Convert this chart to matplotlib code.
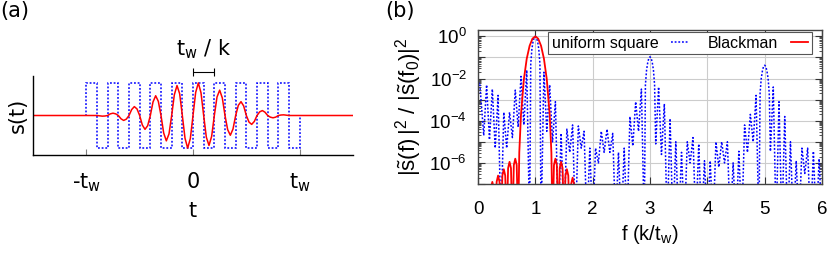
import numpy as np
import matplotlib.pyplot as plt
from matplotlib.ticker import FixedLocator, FuncFormatter, LogLocator, NullFormatter

plt.rcParams['mathtext.fontset'] = 'custom'
plt.rcParams['mathtext.rm'] = 'Liberation Sans'
plt.rcParams['mathtext.sf'] = 'DejaVu Sans'

#%% panel (a): time signals, t in units of t_w
sq_edges = [-1.0, -0.9, -0.8, -0.7, -0.6, -0.5, -0.4, -0.3, -0.2, -0.1, 0.0,
            0.1, 0.2, 0.3, 0.4, 0.5, 0.6, 0.7, 0.8, 0.9, 1.0]
sq_level = [1, -1, 1, -1, 1, -1, 1, -1, 1, -1,
            1, -1, 1, -1, 1, -1, 1, -1, 1, -1]

# Blackman pulse every 0.025 t_w from -t_w to t_w
bm_sig = [0.0, 0.0, 0.0, 0.0, 0.0, -0.01, -0.02, -0.015,
          0.0, 0.05, 0.07, 0.05, 0.0, -0.10, -0.15, -0.11,
          0.0, 0.18, 0.27, 0.20, 0.0, -0.29, -0.42, -0.31,
          0.0, 0.41, 0.60, 0.43, 0.0, -0.53, -0.77, -0.56,
          0.0, 0.63, 0.91, 0.66, 0.0, -0.69, -0.99, -0.70,
          0.0, 0.70, 0.99, 0.69, 0.0, -0.66, -0.91, -0.63,
          0.0, 0.56, 0.77, 0.53, 0.0, -0.43, -0.60, -0.41,
          0.0, 0.31, 0.42, 0.29, 0.0, -0.20, -0.27, -0.18,
          0.0, 0.11, 0.15, 0.10, 0.0, -0.05, -0.07, -0.05,
          0.0, 0.015, 0.02, 0.01, 0.0, 0.0, 0.0, 0.0, 0.0]
t_sig = np.linspace(-1, 1, len(bm_sig))

#%% panel (b): power spectra, log10 of |s(f)|^2/|s(f0)|^2
sq_f = [0.00, 0.03, 0.10, 0.15, 0.20, 0.25, 0.30, 0.35, 0.40, 0.45, 0.50, 0.55, 0.60, 0.65,
        0.70, 0.75, 0.80, 0.85, 0.90, 0.92, 0.94, 0.96, 0.98, 1.00, 1.02, 1.04, 1.06, 1.08,
        1.10, 1.15, 1.20, 1.25, 1.30, 1.35, 1.40, 1.45, 1.50, 1.55, 1.60, 1.65, 1.70, 1.75,
        1.80, 1.85, 1.90, 1.95, 2.00, 2.05, 2.10, 2.15, 2.20, 2.25, 2.30, 2.35, 2.40, 2.45,
        2.50, 2.55, 2.60, 2.65, 2.70, 2.75, 2.80, 2.85, 2.90, 2.92, 2.94, 2.96, 2.98, 3.00,
        3.02, 3.04, 3.06, 3.08, 3.10, 3.15, 3.20, 3.25, 3.30, 3.35, 3.40, 3.45, 3.50, 3.55,
        3.60, 3.65, 3.70, 3.75, 3.80, 3.85, 3.90, 3.95, 4.00, 4.05, 4.10, 4.15, 4.20, 4.25,
        4.30, 4.35, 4.40, 4.45, 4.50, 4.55, 4.60, 4.65, 4.70, 4.75, 4.80, 4.85, 4.90, 4.92,
        4.94, 4.96, 4.98, 5.00, 5.02, 5.04, 5.06, 5.08, 5.10, 5.15, 5.20, 5.25, 5.30, 5.35,
        5.40, 5.45, 5.50, 5.55, 5.60, 5.65, 5.70, 5.75, 5.80, 5.85, 5.90, 5.95, 6.00]
sq_lg = [-2.25, -2.2, -4.7, -2.3, -4.9, -2.5, -5.3, -2.8, -9.0, -3.6, -5.3, -3.6, -4.8, -2.55,
         -4.3, -1.9, -4.2, -1.6, -9.0, -1.3, -0.6, -0.25, -0.06, 0.0, -0.06, -0.25, -0.6, -1.3,
         -9.0, -1.7, -4.5, -2.3, -5.0, -3.1, -9.0, -4.6, -9.0, -4.4, -5.5, -4.2, -9.0, -4.25,
         -5.3, -4.5, -9.0, -5.3, -9.0, -5.3, -6.0, -4.5, -5.5, -4.4, -5.5, -4.6, -9.0, -5.5,
         -9.0, -5.3, -9.0, -3.8, -5.2, -3.1, -4.5, -2.5, -9.0, -2.3, -1.6, -1.25, -1.03, -0.97,
         -1.03, -1.25, -1.6, -2.3, -5.1, -2.4, -5.6, -3.2, -9.0, -3.9, -9.0, -5.0, -9.0, -5.5,
         -9.0, -5.0, -6.0, -4.8, -9.0, -5.1, -9.0, -5.9, -9.0, -5.9, -9.0, -5.0, -6.2, -5.0,
         -6.0, -5.0, -9.0, -6.0, -9.0, -5.45, -9.0, -4.2, -5.5, -3.7, -5.0, -2.8, -9.0, -2.7,
         -2.0, -1.65, -1.43, -1.37, -1.43, -1.65, -2.0, -2.7, -5.45, -2.4, -9.0, -3.1, -9.0, -3.8,
         -9.0, -5.0, -9.0, -5.9, -9.0, -5.3, -6.5, -5.3, -9.0, -5.45, -9.0, -5.8, -9.0]

bm_f = [0.10, 0.125, 0.15, 0.175, 0.20, 0.225, 0.25, 0.275, 0.30, 0.325, 0.35, 0.375,
        0.40, 0.425, 0.45, 0.475, 0.50, 0.525, 0.55, 0.575, 0.60, 0.625, 0.65, 0.675,
        0.70, 0.72, 0.75, 0.80, 0.85, 0.90, 0.95, 1.00, 1.05, 1.10, 1.15, 1.20, 1.25, 1.28,
        1.30, 1.325, 1.35, 1.375, 1.40, 1.425, 1.45, 1.475, 1.50, 1.525, 1.55, 1.575,
        1.60, 1.625, 1.65, 1.675, 1.70, 1.725, 1.75, 1.775, 1.80]
bm_lg = [-9.0, -7.5, -7.2, -7.5, -9.0, -7.2, -6.9, -7.2, -9.0, -6.9, -6.6, -6.9,
         -9.0, -6.6, -6.3, -6.6, -9.0, -6.25, -5.95, -6.25, -9.0, -6.1, -5.8, -6.1,
         -9.0, -5.5, -3.7, -2.04, -1.06, -0.45, -0.11, 0.0, -0.11, -0.45, -1.06, -2.04, -3.7, -5.5,
         -9.0, -6.1, -5.8, -6.1, -9.0, -6.25, -5.95, -6.25, -9.0, -6.6, -6.3, -6.6,
         -9.0, -7.0, -6.7, -7.0, -9.0, -7.35, -7.05, -7.35, -9.0]

#%% figure
fig = plt.figure(figsize=(8.3, 2.54), dpi=100)

# ---- (a)
ax1 = fig.add_axes([33/830, 1-155/254, 320/830, 79/254])
ax1.stairs(sq_level, sq_edges, baseline=0, fill=False, color='blue',
           linestyle=(0, (1.2, 1.2)), lw=1.1)
ax1.plot(np.concatenate([[-1.5], t_sig, [1.5]]),
         np.concatenate([[0.0], bm_sig, [0.0]]), color='red', lw=1.1)
ax1.set_xlim(-1.5, 1.5)
ax1.set_ylim(-1.2, 1.2)
for s in ['top', 'right']:
    ax1.spines[s].set_visible(False)
ax1.spines['left'].set_linewidth(1.0)
ax1.spines['bottom'].set_linewidth(1.0)
ax1.set_yticks([])
ax1.set_xticks([-1, 0, 1])
ax1.set_xticklabels([r'-$\mathsf{t_w}$', '0', r'$\mathsf{t_w}$'],
                    fontsize=15, family='DejaVu Sans')
ax1.tick_params(axis='x', direction='in', length=4, color='gray', pad=12)
ax1.set_xlabel('t', fontsize=15, family='DejaVu Sans', labelpad=5)
ax1.set_ylabel('s(t)', fontsize=15, family='DejaVu Sans', labelpad=4)
# period marker
ax1.errorbar([0.1], [1.32], xerr=[0.1], color='black', lw=0.8, capsize=3,
             capthick=0.8, clip_on=False)
ax1.text(0.1, 2.0, r'$\mathsf{t_w}$ / k', fontsize=15, family='DejaVu Sans',
         ha='center', va='center')
fig.text(0.0, 0.995, '(a)', fontsize=15, family='DejaVu Sans', va='top', ha='left')

# ---- (b)
ax2 = fig.add_axes([478/830, 1-184/254, 344/830, 154/254])
ax2.plot(sq_f, 10.0**np.array(sq_lg), color='blue', linestyle=(0, (1.2, 1.2)),
         lw=1.1, label='uniform square')
ax2.plot(bm_f, 10.0**np.array(bm_lg), color='red', lw=1.3, label='Blackman')
ax2.set_yscale('log')
ax2.set_xlim(0, 6)
ax2.set_ylim(1e-7, 2)
ax2.yaxis.set_major_locator(FixedLocator([10.0**e for e in range(-7, 1)]))
ax2.yaxis.set_major_formatter(FuncFormatter(
    lambda v, p: r'$\mathrm{10^{%d}}$' % round(np.log10(v)) if round(np.log10(v)) % 2 == 0 else ''))
ax2.yaxis.set_minor_locator(LogLocator(base=10, subs=np.arange(2, 10), numticks=20))
ax2.yaxis.set_minor_formatter(NullFormatter())
ax2.set_xticks(range(0, 7))
ax2.tick_params(which='both', direction='in', top=True, right=True, labelsize=13.5,
                color='#333333')
ax2.tick_params(which='major', length=5)
ax2.tick_params(axis='y', which='major', pad=8)
ax2.tick_params(axis='x', which='major', pad=12)
ax2.tick_params(which='minor', length=2.5)
for lab in ax2.get_xticklabels() + ax2.get_yticklabels():
    lab.set_family('Liberation Sans')
ax2.grid(True, which='major', color='#cccccc', lw=0.8)
ax2.set_axisbelow(True)
for s in ax2.spines.values():
    s.set_color('#444444')
    s.set_linewidth(1.0)
ax2.set_xlabel(r'f (k/t$_\mathrm{w}$)', fontsize=14.5, family='Liberation Sans', labelpad=4)
ax2.set_ylabel(r'$|\tilde{\mathrm{s}}\mathrm{(f)}\,|^2$ / $|\tilde{\mathrm{s}}\mathrm{(f_0)}|^2$',
               fontsize=16, family='Liberation Sans', labelpad=4)
leg = ax2.legend(loc='upper right', ncol=2, markerfirst=False,
                 prop={'family': 'Liberation Sans', 'size': 11.5},
                 fancybox=False, framealpha=1, edgecolor='#555555',
                 borderpad=0.2, handlelength=1.1, handletextpad=0.8,
                 columnspacing=1.2, bbox_to_anchor=(0.97, 0.985), borderaxespad=0)
leg.get_frame().set_linewidth(0.8)
fig.text(385/830, 0.995, '(b)', fontsize=15, family='DejaVu Sans', va='top', ha='left')

fig.savefig('out.png', dpi=100)
